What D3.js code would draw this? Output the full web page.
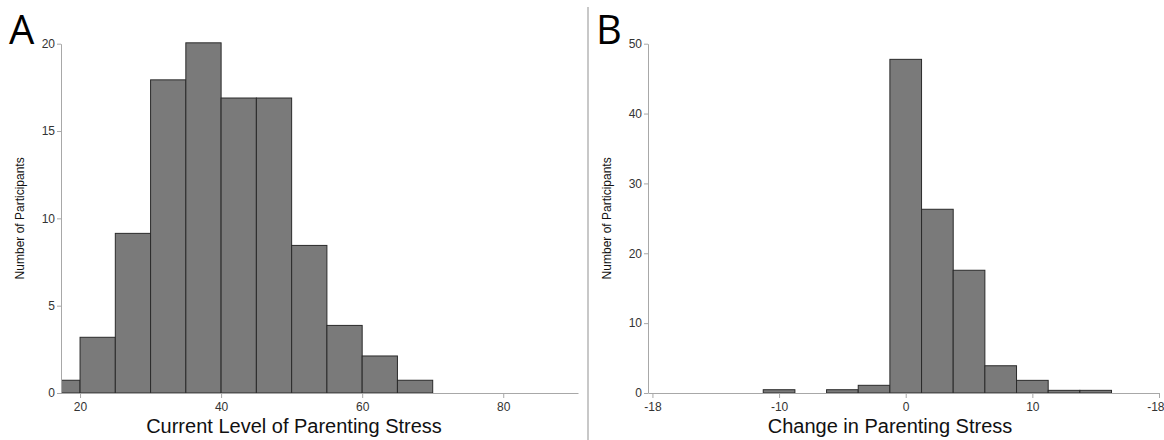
<!DOCTYPE html>
<html lang="en">
<head>
  <meta charset="UTF-8">
  <title>Parenting Stress Histograms</title>
  <script src="https://d3js.org/d3.v7.min.js"></script>
  <style>
    body { margin: 0; background: #fff; font-family: 'Liberation Sans', Arial, sans-serif; }
    .axis path, .axis line { stroke: #a8a8a8; }
    .axis text { fill: #333; font-size: 12px; font-family: 'Liberation Sans', Arial, sans-serif; }
  </style>
</head>
<body>
  <div id="chart"></div>
  <script>
    // Panel A : current level of parenting stress (bin width 5)
    const binStartsA = [15, 20, 25, 30, 35, 40, 45, 50, 55, 60, 65];
    const countsA    = [0.73, 3.19, 9.14, 17.93, 20.05, 16.89, 16.89, 8.45, 3.87, 2.12, 0.73];
    const ticksA     = [20, 40, 60, 80];
    const tickLabelsA = ["20", "40", "60", "80"];
    const yTicksA    = [0, 5, 10, 15, 20];

    // Panel B : change in parenting stress (bin width 2.5)
    const binStartsB = [-11.25, -6.25, -3.75, -1.25, 1.25, 3.75, 6.25, 8.75, 11.25, 13.75];
    const countsB    = [0.47, 0.47, 1.1, 47.76, 26.3, 17.57, 3.9, 1.81, 0.38, 0.38];
    const ticksB     = [-20, -10, 0, 10, 20];
    const tickLabelsB = ["-18", "-10", "0", "10", "-18"];
    const yTicksB    = [0, 10, 20, 30, 40, 50];

    const W = 1164, H = 440;
    const svg = d3.select("#chart").append("svg")
      .attr("width", W).attr("height", H);

    const panels = [
      { id: "A", starts: binStartsA, counts: countsA, bw: 5, xDomain: [17.3, 90.6], xRange: [61, 578],
        yMax: 20, ticks: ticksA, labels: tickLabelsA, yTicks: yTicksA,
        title: "Current Level of Parenting Stress", titleX: 294, letterX: 9, yTitleX: 20 },
      { id: "B", starts: binStartsB, counts: countsB, bw: 2.5, xDomain: [-20.35, 20], xRange: [648, 1159],
        yMax: 50, ticks: ticksB, labels: tickLabelsB, yTicks: yTicksB,
        title: "Change in Parenting Stress", titleX: 890, letterX: 596, yTitleX: 607 }
    ];

    const yRange = [393, 43.7];

    panels.forEach(p => {
      const x = d3.scaleLinear().domain(p.xDomain).range(p.xRange);
      const y = d3.scaleLinear().domain([0, p.yMax]).range(yRange);
      const g = svg.append("g");

      g.append("clipPath").attr("id", "clip" + p.id)
        .append("rect")
        .attr("x", p.xRange[0]).attr("y", 0)
        .attr("width", p.xRange[1] - p.xRange[0]).attr("height", H);

      const bins = p.starts.map((s, i) => ({ x0: s, x1: s + p.bw, n: p.counts[i] }));
      g.append("g").attr("clip-path", `url(#clip${p.id})`)
        .selectAll("rect").data(bins).join("rect")
        .attr("x", d => x(d.x0))
        .attr("y", d => y(d.n))
        .attr("width", d => x(d.x1) - x(d.x0))
        .attr("height", d => y(0) - y(d.n))
        .attr("fill", "#7a7a7a")
        .attr("stroke", "#2a2a2a")
        .attr("stroke-width", 1);

      const xAxis = g.append("g").attr("class", "axis")
        .attr("transform", `translate(0,${y(0)})`)
        .call(d3.axisBottom(x).tickValues(p.ticks).tickSize(5).tickSizeOuter(0)
          .tickFormat((d, i) => p.labels[i]));
      xAxis.selectAll("text").attr("dy", "0.85em");
      // last label sits on the panel edge: keep it inside the page
      xAxis.selectAll(".tick").filter(d => x(d) > W - 12)
        .select("text").attr("text-anchor", "end").attr("x", 5);

      g.append("g").attr("class", "axis")
        .attr("transform", `translate(${p.xRange[0]},0)`)
        .call(d3.axisLeft(y).tickValues(p.yTicks).tickSize(4).tickSizeOuter(0))
        .call(a => a.selectAll("text").attr("x", -6));

      g.append("text")
        .attr("x", p.titleX).attr("y", 433)
        .attr("text-anchor", "middle")
        .attr("font-size", 20)
        .attr("fill", "#111")
        .text(p.title);

      g.append("text")
        .attr("transform", `translate(${p.yTitleX},${(yRange[0] + yRange[1]) / 2}) rotate(-90)`)
        .attr("text-anchor", "middle")
        .attr("dy", "0.35em")
        .attr("font-size", 12)
        .attr("fill", "#111")
        .text("Number of Participants");

      g.append("text")
        .attr("x", p.letterX).attr("y", 44)
        .attr("font-size", 40)
        .attr("font-family", "'Open Sans', 'Liberation Sans', sans-serif")
        .attr("fill", "#000")
        .text(p.id);
    });

    // divider between panels
    svg.append("line")
      .attr("x1", 588).attr("x2", 588).attr("y1", 7).attr("y2", H)
      .attr("stroke", "#c8c8c8").attr("stroke-width", 2);
  </script>
</body>
</html>
